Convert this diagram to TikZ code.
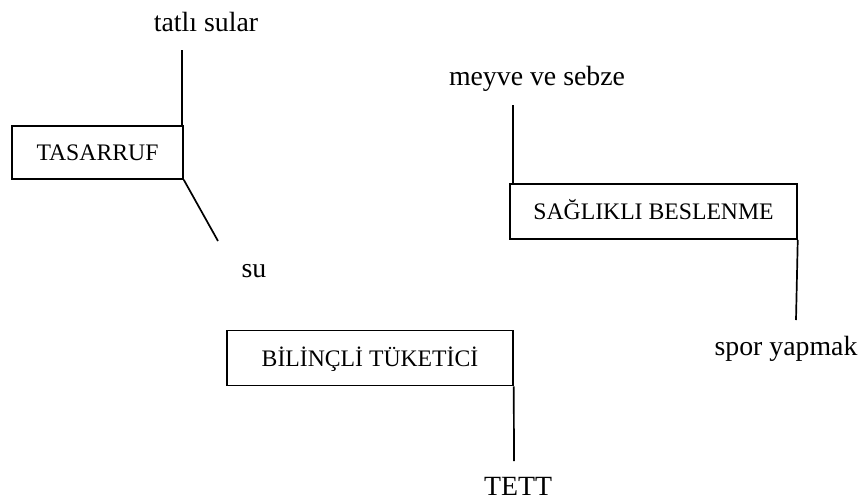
\documentclass[tikz,border=0pt]{standalone}
\usepackage{fontspec}
\setmainfont{Liberation Serif}
\begin{document}
\begin{tikzpicture}[x=1pt,y=-1pt,
  conn/.style={line width=1.7pt, black},
  boxnode/.style={draw, line width=1.5pt, inner sep=0pt, text height=16pt, text depth=0pt,
    font=\fontsize{23.7}{28}\selectfont},
  lbl/.style={anchor=base, inner sep=0pt, font=\fontsize{27.8}{33}\selectfont}]
\useasboundingbox (0,0) rectangle (864,501);
% boxes
\node[boxnode, minimum width=171pt, minimum height=53pt] (box1) at (97.5,152.5) {TASARRUF};
\node[boxnode, minimum width=287pt, minimum height=55pt] (box2) at (653.5,211.5) {SAĞLIKLI BESLENME};
\node[boxnode, minimum width=286pt, minimum height=55pt] (box3) at (370,358) {BİLİNÇLİ TÜKETİCİ};
% labels
\node[lbl] (l1) at (206,31) {tatlı sular};
\node[lbl] (l2) at (254,277) {su};
\node[lbl] (l3) at (537,85) {meyve ve sebze};
\node[lbl] (l4) at (786,355) {spor yapmak};
\node[lbl] (l5) at (518,495) {TETT};
% connector ends
\coordinate (c1) at (182,50);
\coordinate (c2) at (218,241);
\coordinate (c3) at (513,105);
\coordinate (c4) at (796,320);
\coordinate (c5) at (514,461);
% connectors
\draw[conn] (c1) -- (c1 |- box1.north);
\draw[conn] (box1.south east) -- (c2);
\draw[conn] (c3) -- (c3 |- box2.north);
\draw[conn] (box2.south east) -- (c4);
\draw[conn] (box3.south east) -- (c5);
\end{tikzpicture}
\end{document}
